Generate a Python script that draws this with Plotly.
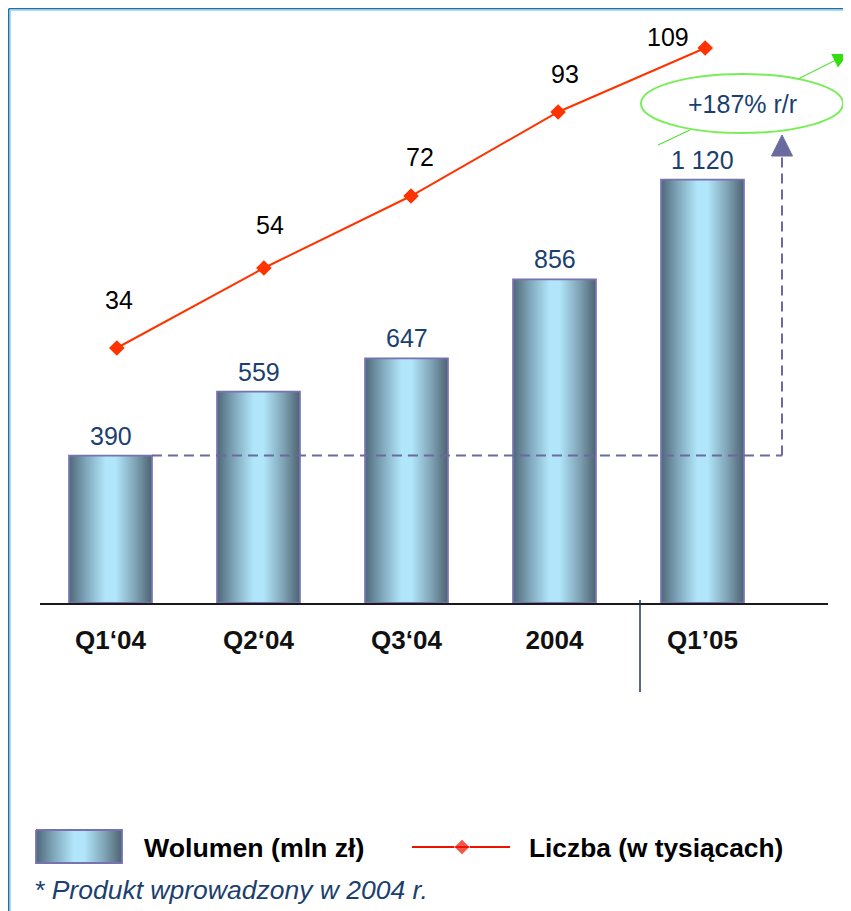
import plotly.graph_objects as go

# ---------------- data ----------------
categories = ["Q1‘04", "Q2‘04", "Q3‘04", "2004", "Q1’05"]
wolumen = [390, 559, 647, 856, 1120]          # mln zł (bars)
liczba = [34, 54, 72, 93, 109]                # w tysiącach (line)
growth_label = "+187% r/r"
legend_bar = "Wolumen (mln zł)"
legend_line = "Liczba (w tysiącach)"
footnote = "* Produkt wprowadzony w 2004 r."

# ---------------- styling ----------------
OFF = 8                      # page body margin of the html page
W, H = 851 - OFF, 911 - OFF
FONT = "Arial, Liberation Sans, sans-serif"
NAVY = "#1b3f6e"
BAR_EDGE = "#7873b0"
RED = "#ff3300"
GREEN_LINE = "#33dd11"
GREEN_ELL = "#77ee55"
DASH = "#6b6a9e"
bar_scale = [[0.0, "#4e6878"], [0.2, "#7fa5b9"], [0.44, "#b1e6fa"],
             [0.56, "#b1e6fa"], [0.8, "#7fa3b5"], [1.0, "#4d6372"]]
half_w = 0.28
# label offsets (pixels) for line values
line_lbl_dx = [2, 6, 9, 7, -37]
line_lbl_dy = [48, 43, 39, 38, 11]


def PX(x):
    return (x - OFF) / W


def PY(y):
    return 1 - (y - OFF) / H


x0_px, x_step = 110.5, 148.0       # bar category mapping
lx0_px, lx_step = 116.8, 147.1     # line category mapping
base_px, top_px = 603, 20
y_per = 0.378          # px per mln zł
y2_per = 4.0           # px per thousand

fig = go.Figure()

# bars with horizontal gradient
for i, v in enumerate(wolumen):
    fig.add_trace(go.Scatter(
        x=[i - half_w, i + half_w, i + half_w, i - half_w, i - half_w],
        y=[0, 0, v, v, 0],
        mode="lines", fill="toself",
        fillgradient=dict(type="horizontal", colorscale=bar_scale),
        line=dict(color=BAR_EDGE, width=1.8),
        showlegend=False, hoverinfo="skip"))

# line series
fig.add_trace(go.Scatter(
    x=list(range(len(liczba))), y=liczba, xaxis="x2", yaxis="y2",
    mode="lines+markers",
    line=dict(color=RED, width=2),
    marker=dict(symbol="diamond", size=12, color=RED),
    showlegend=False, hoverinfo="skip"))

# legend keys on an auxiliary pixel-space axis
fig.add_trace(go.Scatter(
    x=[36, 122, 122, 36, 36], y=[830, 830, 863, 863, 830],
    xaxis="x3", yaxis="y3", mode="lines", fill="toself",
    fillgradient=dict(type="horizontal", colorscale=bar_scale),
    line=dict(color=BAR_EDGE, width=1.8), showlegend=False, hoverinfo="skip"))
fig.add_trace(go.Scatter(
    x=[412, 462, 510], y=[847, 847, 847], xaxis="x3", yaxis="y3",
    mode="lines+markers", line=dict(color="#ee1100", width=2),
    marker=dict(symbol="diamond", size=[0, 12, 0], color="#ee1100"),
    showlegend=False, hoverinfo="skip"))

annotations = []
# bar value labels
for i, v in enumerate(wolumen):
    txt = f"{v:,}".replace(",", " ")
    annotations.append(dict(x=i, y=v, xref="x", yref="y", text=txt,
                            showarrow=False, xanchor="center", yanchor="middle", yshift=20,
                            font=dict(family=FONT, size=25, color=NAVY)))
# line value labels
for i, v in enumerate(liczba):
    annotations.append(dict(x=i, y=v, xref="x2", yref="y2", text=str(v),
                            showarrow=False, xanchor="center", yanchor="middle",
                            xshift=line_lbl_dx[i], yshift=line_lbl_dy[i],
                            font=dict(family=FONT, size=25, color="#000000")))
# growth text
annotations.append(dict(x=PX(742), y=PY(104), xref="paper", yref="paper",
                        text=growth_label, showarrow=False,
                        xanchor="center", yanchor="middle",
                        font=dict(family=FONT, size=25, color=NAVY)))
# green arrow (upper part)
annotations.append(dict(x=PX(848), y=PY(54), xref="paper", yref="paper",
                        ax=-50, ay=25, axref="pixel", ayref="pixel",
                        text="", showarrow=True, arrowhead=2, arrowsize=3,
                        arrowwidth=1, arrowcolor=GREEN_LINE, standoff=0))
# legend texts
annotations.append(dict(x=PX(142), y=PY(848), xref="paper", yref="paper",
                        text=legend_bar, showarrow=False, xanchor="left", yanchor="middle",
                        font=dict(family=FONT, size=26.7, color="#000000", weight="bold")))
annotations.append(dict(x=PX(527), y=PY(848), xref="paper", yref="paper",
                        text=legend_line, showarrow=False, xanchor="left", yanchor="middle",
                        font=dict(family=FONT, size=26.3, color="#000000", weight="bold")))
annotations.append(dict(x=PX(32), y=PY(890), xref="paper", yref="paper",
                        text=footnote, showarrow=False, xanchor="left", yanchor="middle",
                        font=dict(family=FONT, size=26.5, color=NAVY, style="italic")))

dash_x = (782 - x0_px) / x_step
sep_x = (640 - x0_px) / x_step
shapes = [
    # frame
    dict(type="line", xref="paper", yref="paper", x0=PX(8.8), y0=PY(911), x1=PX(8.8), y1=PY(8.8),
         line=dict(color="#1f6fa5", width=1.6)),
    dict(type="line", xref="paper", yref="paper", x0=PX(8.8), y0=PY(8.8), x1=PX(851), y1=PY(8.8),
         line=dict(color="#1f6fa5", width=1.6)),
    dict(type="line", xref="paper", yref="paper", x0=PX(10.3), y0=PY(911), x1=PX(10.3), y1=PY(10.3),
         line=dict(color="#a8daf2", width=1.4)),
    dict(type="line", xref="paper", yref="paper", x0=PX(10.3), y0=PY(10.3), x1=PX(851), y1=PY(10.3),
         line=dict(color="#a8daf2", width=1.4)),
    # separator
    dict(type="line", xref="x", yref="paper", x0=sep_x, x1=sep_x, y0=PY(600), y1=PY(692),
         line=dict(color="#1a3a5a", width=1.5)),
    # dashed reference
    dict(type="line", xref="x", yref="y", x0=half_w, x1=dash_x, y0=wolumen[0], y1=wolumen[0],
         line=dict(color=DASH, width=2, dash="10px,6px")),
    dict(type="line", xref="x", yref="y", x0=dash_x, x1=dash_x, y0=wolumen[0],
         y1=(base_px - 155) / y_per,
         line=dict(color=DASH, width=2, dash="10px,6px")),
    dict(type="path", xref="paper", yref="paper",
         path=f"M {PX(782)} {PY(135)} L {PX(771.5)} {PY(156)} L {PX(792.5)} {PY(156)} Z",
         fillcolor=DASH, line=dict(color=DASH, width=1)),
    # green lower segment
    dict(type="line", xref="paper", yref="paper", x0=PX(658), y0=PY(145), x1=PX(690), y1=PY(130),
         line=dict(color=GREEN_LINE, width=1)),
    # ellipse
    dict(type="circle", xref="paper", yref="paper", x0=PX(641), x1=PX(843), y0=PY(133), y1=PY(74),
         line=dict(color=GREEN_ELL, width=2), fillcolor="white", layer="above"),
]

fig.update_layout(
    width=W, height=H, margin=dict(l=0, r=0, t=0, b=0),
    paper_bgcolor="white", plot_bgcolor="rgba(0,0,0,0)",
    showlegend=False,
    xaxis=dict(domain=[PX(40), PX(828)],
               range=[(40 - x0_px) / x_step, (828 - x0_px) / x_step],
               tickvals=list(range(len(categories))), ticktext=categories,
               showline=True, linecolor="#1a1a1a", linewidth=1.5,
               showgrid=False, zeroline=False, ticks="",
               ticklabelstandoff=13, fixedrange=True,
               tickfont=dict(family=FONT, size=26, color="#111111", weight="bold")),
    xaxis2=dict(overlaying="x", anchor="y2",
                range=[(40 - lx0_px) / lx_step, (828 - lx0_px) / lx_step],
                visible=False),
    yaxis=dict(domain=[PY(base_px), PY(top_px)],
               range=[0, (base_px - top_px) / y_per], visible=False),
    yaxis2=dict(overlaying="y", anchor="x2",
                range=[liczba[0] - (base_px - 348) / y2_per,
                       liczba[0] + (348 - top_px) / y2_per],
                visible=False),
    xaxis3=dict(domain=[0, 1], range=[OFF, OFF + W], visible=False, anchor="y3"),
    yaxis3=dict(domain=[PY(875), PY(820)], range=[875, 820], visible=False, anchor="x3"),
    annotations=annotations, shapes=shapes,
)

fig.write_html("out.html")
